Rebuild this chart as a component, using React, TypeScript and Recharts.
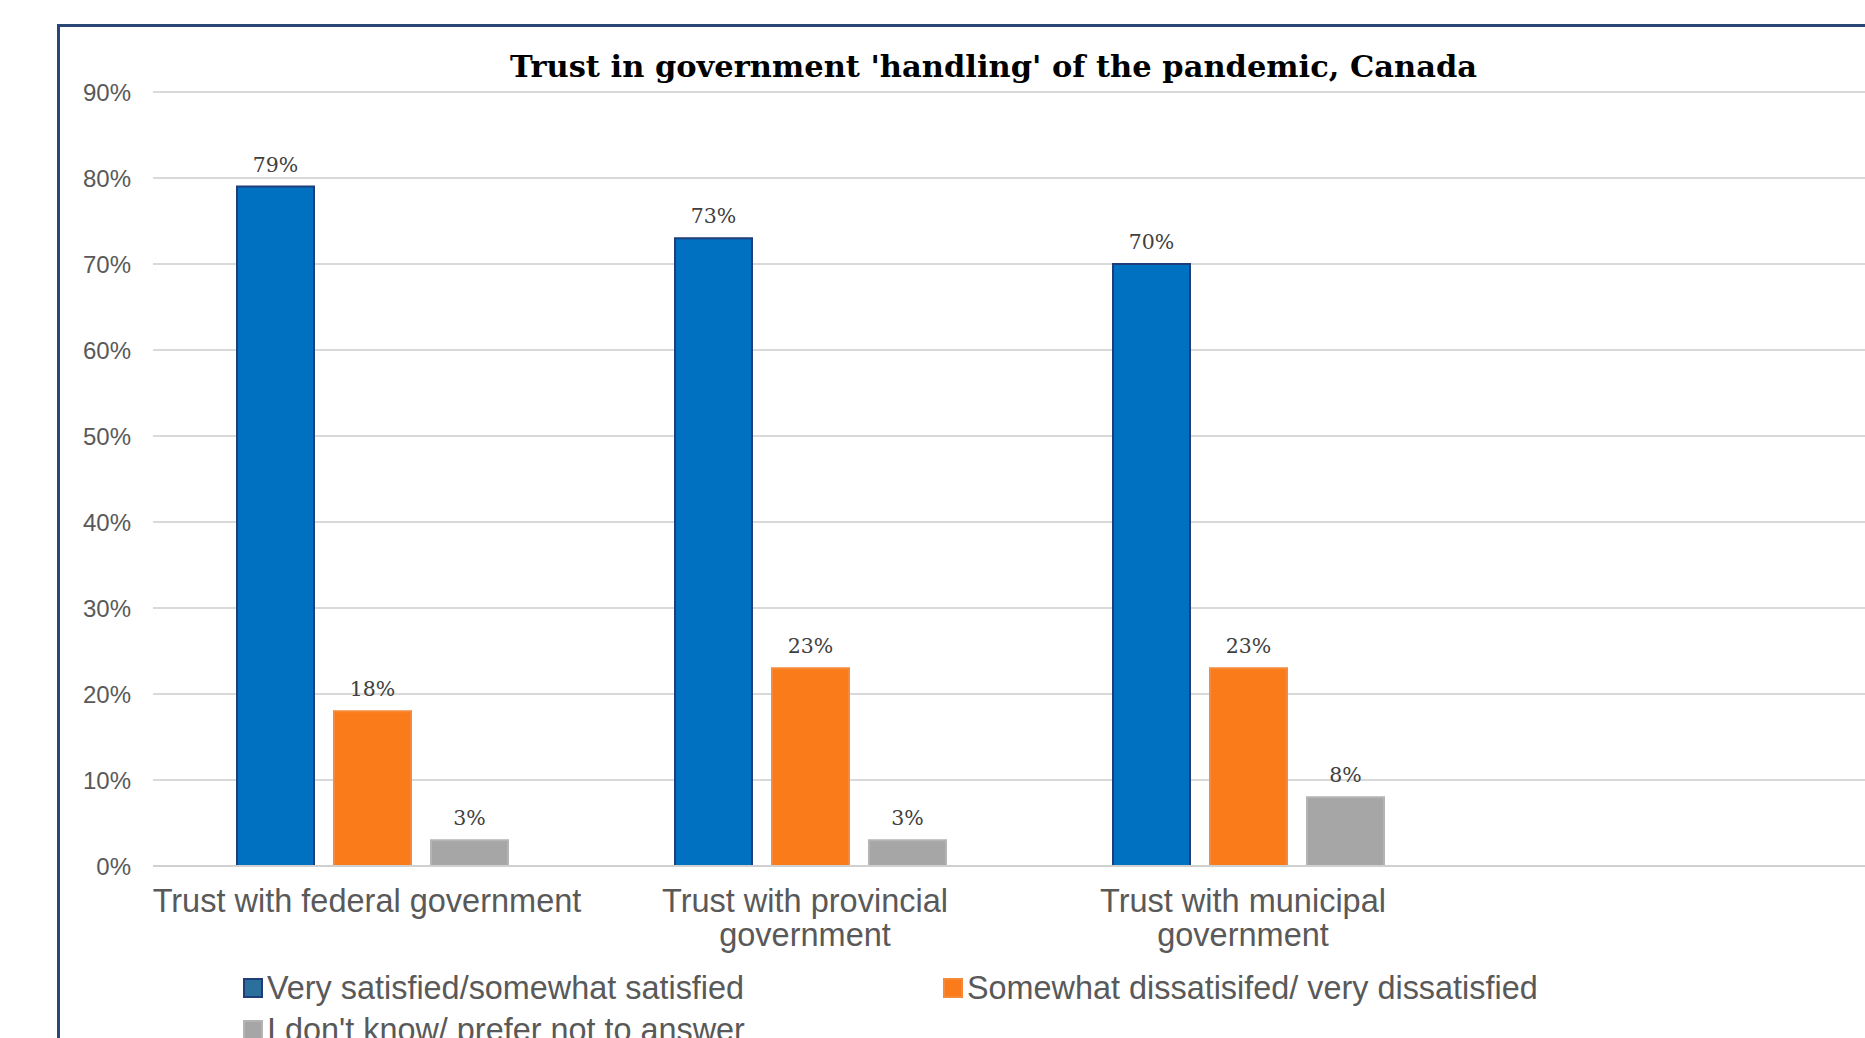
import React from 'react';
import { BarChart, Bar, XAxis, YAxis, CartesianGrid, LabelList, Legend } from 'recharts';

const categories = [
  'Trust with federal government',
  'Trust with provincial government',
  'Trust with municipal government',
  '',
];
const satisfied = [79, 73, 70, null];
const dissatisfied = [18, 23, 23, null];
const dontKnow = [3, 3, 8, null];
const seriesNames = [
  'Very satisfied/somewhat satisfied',
  'Somewhat dissatisifed/ very dissatisfied',
  "I don't know/ prefer not to answer",
];
const yTicks = [0, 10, 20, 30, 40, 50, 60, 70, 80, 90];
const title = "Trust in government 'handling' of the pandemic, Canada";

const seriesStyle = [
  { fill: '#0070C0', stroke: '#1F3D78', swatch: '#2B6F9C' },
  { fill: '#FA7B19', stroke: '#F68A3A', swatch: '#FA7B19' },
  { fill: '#A6A6A6', stroke: '#B4B4B4', swatch: '#A6A6A6' },
];

const data = categories.map((c, i) => ({
  name: c,
  s0: satisfied[i],
  s1: dissatisfied[i],
  s2: dontKnow[i],
}));

const SANS = '"Liberation Sans", Arial, sans-serif';
const SERIF = '"DejaVu Serif", serif';
const X_FONT = 32.5;

let ctx: CanvasRenderingContext2D | null = null;
function wrapWords(text: string, maxWidth: number): string[] {
  if (!ctx) {
    const c = document.createElement('canvas');
    ctx = c.getContext('2d');
  }
  if (!ctx) return [text];
  ctx.font = `${X_FONT}px "Liberation Sans", Arial, sans-serif`;
  const words = text.split(' ');
  const lines: string[] = [];
  let cur = '';
  for (const w of words) {
    const test = cur ? `${cur} ${w}` : w;
    if (cur && ctx.measureText(test).width > maxWidth) {
      lines.push(cur);
      cur = w;
    } else {
      cur = test;
    }
  }
  if (cur) lines.push(cur);
  return lines;
}

const XTick = (props: any) => {
  const { x, y, payload } = props;
  const lines = wrapWords(String(payload.value ?? ''), 440);
  const cx = x - 5;
  return (
    <text
      x={cx}
      y={y}
      textAnchor="middle"
      fill="#595959"
      style={{ fontFamily: SANS, fontSize: X_FONT }}
    >
      {lines.map((l, i) => (
        <tspan key={i} x={cx} dy={i === 0 ? '0.71em' : 34}>
          {l}
        </tspan>
      ))}
    </text>
  );
};

const renderLegend = () => (
  <div style={{ position: 'relative', width: 1500, height: 90 }}>
    {seriesNames.map((n, i) => (
      <div
        key={n}
        style={{
          position: 'absolute',
          left: 243 + (i % 2) * 700,
          top: Math.floor(i / 2) * 42,
          height: 42,
          display: 'flex',
          alignItems: 'center',
          whiteSpace: 'nowrap',
        }}
      >
        <div
          style={{
            width: 16,
            height: 16,
            background: seriesStyle[i].swatch,
            border: `2px solid ${seriesStyle[i].stroke}`,
            marginRight: 4,
          }}
        />
        <span style={{ fontFamily: SANS, fontSize: 32.4, color: '#595959' }}>{n}</span>
      </div>
    ))}
  </div>
);

export default function App() {
  return (
    <div
      style={{
        position: 'absolute',
        left: 0,
        top: 0,
        width: 1865,
        height: 1038,
        overflow: 'hidden',
        background: '#ffffff',
      }}
    >
      <div
        style={{
          position: 'absolute',
          left: 57,
          top: 24,
          width: 1900,
          height: 1100,
          border: '3px solid #2A4677',
          boxSizing: 'border-box',
        }}
      />
      <div
        style={{
          position: 'absolute',
          left: 0,
          top: 50,
          width: 1987,
          textAlign: 'center',
          fontFamily: SERIF,
          fontWeight: 'bold',
          fontSize: 30.5,
          lineHeight: '32px',
          color: '#000',
          whiteSpace: 'nowrap',
        }}
      >
        {title}
      </div>
      <div style={{ position: 'absolute', left: 0, top: 0 }}>
        <BarChart
          width={1960}
          height={1100}
          data={data}
          margin={{ top: 92, right: 55, left: 53, bottom: 174 }}
          barSize={77}
          barGap={20}
        >
          <CartesianGrid vertical={false} stroke="#D9D9D9" strokeWidth={2} />
          <XAxis
            dataKey="name"
            height={60}
            tickLine={false}
            axisLine={{ stroke: '#D0D0D0', strokeWidth: 2 }}
            tick={<XTick />}
            tickMargin={17}
            interval={0}
          />
          <YAxis
            width={100}
            domain={[0, 90]}
            ticks={yTicks}
            tickFormatter={(v: number) => `${v}%`}
            axisLine={false}
            tickLine={false}
            tickMargin={16}
            tick={{ fill: '#595959', fontSize: 24, fontFamily: SANS }}
            interval={0}
          />
          {['s0', 's1', 's2'].map((k, i) => (
            <Bar
              key={k}
              dataKey={k}
              name={seriesNames[i]}
              fill={seriesStyle[i].fill}
              stroke={seriesStyle[i].stroke}
              strokeWidth={2}
              isAnimationActive={false}
            >
              <LabelList
                dataKey={k}
                position="top"
                offset={15}
                formatter={(v: any) => (v == null ? '' : `${v}%`)}
                style={{ fill: '#404040', fontSize: 20.5, fontFamily: SERIF }}
              />
            </Bar>
          ))}
          <Legend
            layout="horizontal"
            verticalAlign="middle"
            align="center"
            content={renderLegend}
            wrapperStyle={{ left: 0, top: 967, width: 1500, height: 90 }}
          />
        </BarChart>
      </div>
    </div>
  );
}
